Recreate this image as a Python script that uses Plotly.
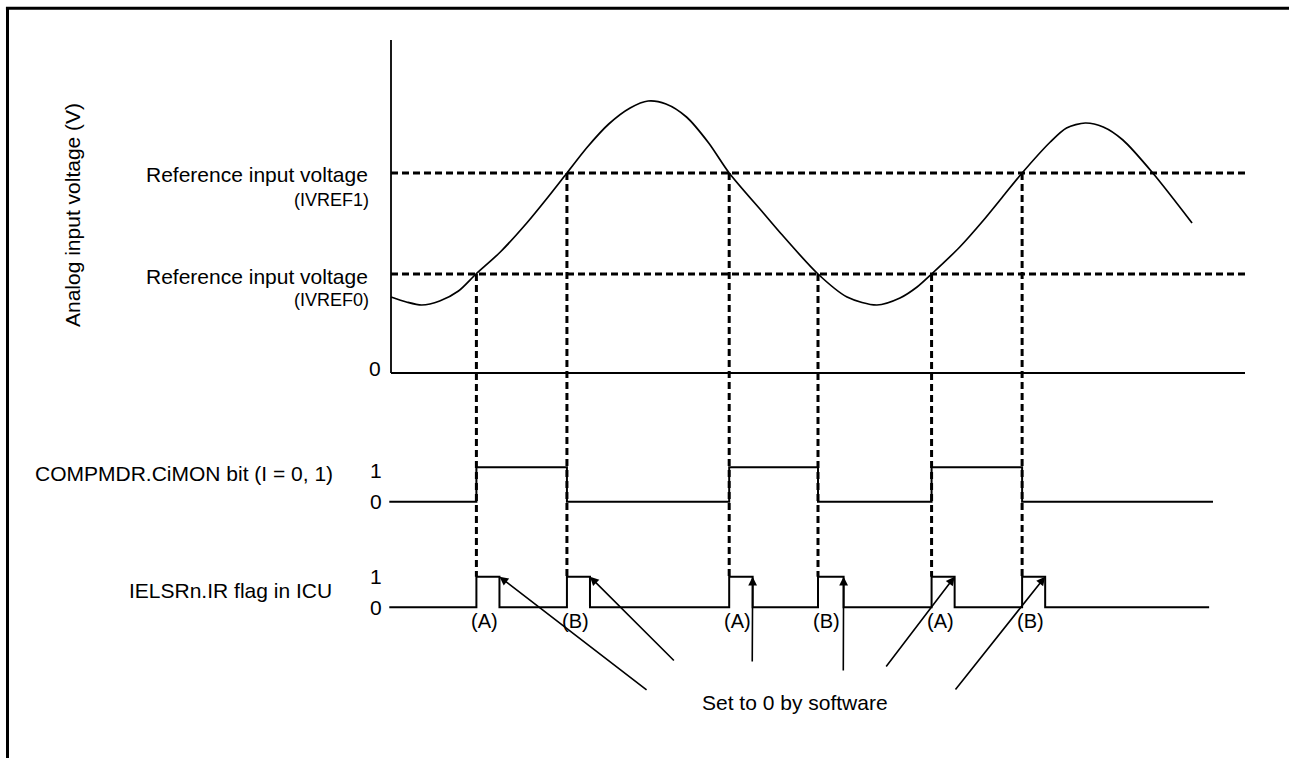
import plotly.graph_objects as go

# ---------------- data ----------------
# time axis in arbitrary units (0 = voltage axis, 100 = end of time axis)
WAVE_T = [0.0, 1.8, 3.6, 5.7, 7.9, 9.95, 12.8, 15.9, 18.3, 20.6, 23.0, 25.5, 28.0,
          30.1, 32.2, 34.6, 37.2, 39.6, 43.6, 45.6, 50.0, 53.4, 56.9, 59.6, 61.6,
          63.3, 66.6, 69.4, 71.6, 73.9, 77.2, 79.1, 81.3, 83.4, 85.7, 89.2, 93.8]
WAVE_V = [0.76, 0.71, 0.68, 0.72, 0.82, 0.99, 1.21, 1.50, 1.75, 2.00, 2.26, 2.49, 2.65,
          2.72, 2.69, 2.56, 2.30, 2.00, 1.60, 1.40, 0.99, 0.76, 0.68, 0.75, 0.86,
          0.99, 1.26, 1.53, 1.76, 2.00, 2.31, 2.45, 2.50, 2.46, 2.33, 2.00, 1.50]

IVREF0 = 0.99
IVREF1 = 2.00
AXIS_T_END = 100.0
AXIS_V_TOP = 3.33
REF_T_END = 100.2

# comparator crossing times and which reference they hit
CROSS_T = [10.0, 20.6, 39.6, 50.0, 63.3, 73.9]
CROSS_REF = [IVREF0, IVREF1, IVREF1, IVREF0, IVREF0, IVREF1]
CROSS_LABEL = ["(A)", "(B)", "(A)", "(B)", "(A)", "(B)"]

# COMPMDR.CiMON bit (step, hv)
CIMON_T = [-0.2, 10.0, 20.6, 39.6, 50.0, 63.3, 73.9, 96.25]
CIMON_BIT = [0, 1, 0, 1, 0, 1, 0, 0]

# IELSRn.IR flag (step, hv)
IR_T = [-0.2, 10.0, 12.7, 20.6, 23.3, 39.6, 42.35, 50.0, 53.0, 63.3, 66.0, 73.9, 76.6, 95.8]
IR_BIT = [0, 1, 0, 1, 0, 1, 0, 1, 0, 1, 0, 1, 0, 0]
IR_CLEAR_T = [12.7, 23.3, 42.35, 53.0, 66.0, 76.6]

# arrow tails of "Set to 0 by software"
ARROW_TAIL_T = [30.1, 33.3, 42.3, 52.96, 57.85, 65.96]
ARROW_TAIL_V = [-3.18, -2.89, -2.90, -2.99, -2.95, -3.18]

# ---------------- layout constants ----------------
W, H = 1289, 758
X_RANGE = [-45.785, 105.152]
Y_RANGE = [-3.85, 3.73]
CIMON_BASE, CIMON_AMP = -1.287, 0.344
IR_BASE, IR_AMP = -2.343, 0.306
FONT = "Liberation Sans, Arial, sans-serif"
BLACK = "#000000"

fig = go.Figure()

# analog waveform
fig.add_trace(go.Scatter(x=WAVE_T, y=WAVE_V, mode="lines",
                         line=dict(color=BLACK, width=1.7, shape="spline", smoothing=0.8),
                         hoverinfo="skip"))
# digital signals
fig.add_trace(go.Scatter(x=CIMON_T, y=[CIMON_BASE + b * CIMON_AMP for b in CIMON_BIT],
                         mode="lines", line=dict(color=BLACK, width=2, shape="hv"),
                         hoverinfo="skip"))
fig.add_trace(go.Scatter(x=IR_T, y=[IR_BASE + b * IR_AMP for b in IR_BIT],
                         mode="lines", line=dict(color=BLACK, width=2, shape="hv"),
                         hoverinfo="skip"))

shapes = []
dash = dict(color=BLACK, width=3, dash="7px,4px")
# axes of analog panel
shapes.append(dict(type="line", xref="x", yref="y", x0=0, x1=0, y0=0, y1=AXIS_V_TOP,
                   line=dict(color=BLACK, width=1.8)))
shapes.append(dict(type="line", xref="x", yref="y", x0=0, x1=AXIS_T_END, y0=0, y1=0,
                   line=dict(color=BLACK, width=1.8)))
# reference levels
for v in (IVREF0, IVREF1):
    shapes.append(dict(type="line", xref="x", yref="y", x0=0, x1=REF_T_END, y0=v, y1=v,
                       line=dash, layer="below"))
# vertical dashed lines from crossings down to IR high level
for t, v in zip(CROSS_T, CROSS_REF):
    shapes.append(dict(type="line", xref="x", yref="y", x0=t, x1=t, y0=v,
                       y1=IR_BASE + IR_AMP, line=dash, layer="below"))
# page frame (top and left)
shapes.append(dict(type="line", xref="paper", yref="paper", x0=0.0046, x1=1.01,
                   y0=1 - 8.3 / H, y1=1 - 8.3 / H, line=dict(color=BLACK, width=3)))
shapes.append(dict(type="line", xref="paper", yref="paper", x0=7.5 / W, x1=7.5 / W,
                   y0=-0.01, y1=1 - 7 / H, line=dict(color=BLACK, width=3)))

ann = []
def txt(x, y, s, size=21, xanchor="right", yanchor="middle", **kw):
    ann.append(dict(x=x, y=y, xref="x", yref="y", text=s, showarrow=False,
                    xanchor=xanchor, yanchor=yanchor,
                    font=dict(family=FONT, size=size, color=BLACK), **kw))

txt(-37.35, 1.58, "Analog input voltage (V)", xanchor="center", textangle=-90)
txt(-2.5, IVREF1 - 0.01, "Reference input voltage")
txt(-2.3, IVREF1 - 0.27, "(IVREF1)", size=18)
txt(-2.5, IVREF0 - 0.02, "Reference input voltage")
txt(-2.3, IVREF0 - 0.26, "(IVREF0)", size=18)
txt(-0.9, 0.05, "0")
txt(-6.6, CIMON_BASE + 0.28, "COMPMDR.CiMON bit (I = 0, 1)")
txt(-0.85, CIMON_BASE + CIMON_AMP - 0.03, "1")
txt(-0.85, CIMON_BASE, "0")
txt(-6.7, IR_BASE + 0.17, "IELSRn.IR flag in ICU")
txt(-0.85, IR_BASE + IR_AMP, "1")
txt(-0.85, IR_BASE, "0")
for t, lab in zip(CROSS_T, CROSS_LABEL):
    txt(t + 1.0, IR_BASE - 0.14, lab, size=20, xanchor="center")
txt(47.25, -3.293, "Set to 0 by software")
ann[-1]["xanchor"] = "center"

for t, at, av in zip(IR_CLEAR_T, ARROW_TAIL_T, ARROW_TAIL_V):
    ann.append(dict(x=t, y=IR_BASE + IR_AMP, xref="x", yref="y",
                    ax=at, ay=av, axref="x", ayref="y", text="", showarrow=True,
                    arrowhead=2, arrowsize=1.1, arrowwidth=1.6, arrowcolor=BLACK,
                    standoff=0, startstandoff=0))

fig.update_layout(
    width=W, height=H, margin=dict(l=0, r=0, t=0, b=0, pad=0),
    paper_bgcolor="white", plot_bgcolor="white", showlegend=False,
    xaxis=dict(visible=False, range=X_RANGE, fixedrange=True),
    yaxis=dict(visible=False, range=Y_RANGE, fixedrange=True),
    shapes=shapes, annotations=ann,
)

fig.write_html("out.html", config={"displayModeBar": False},
               post_script="document.body.style.margin='0';document.body.style.overflow='hidden';")
